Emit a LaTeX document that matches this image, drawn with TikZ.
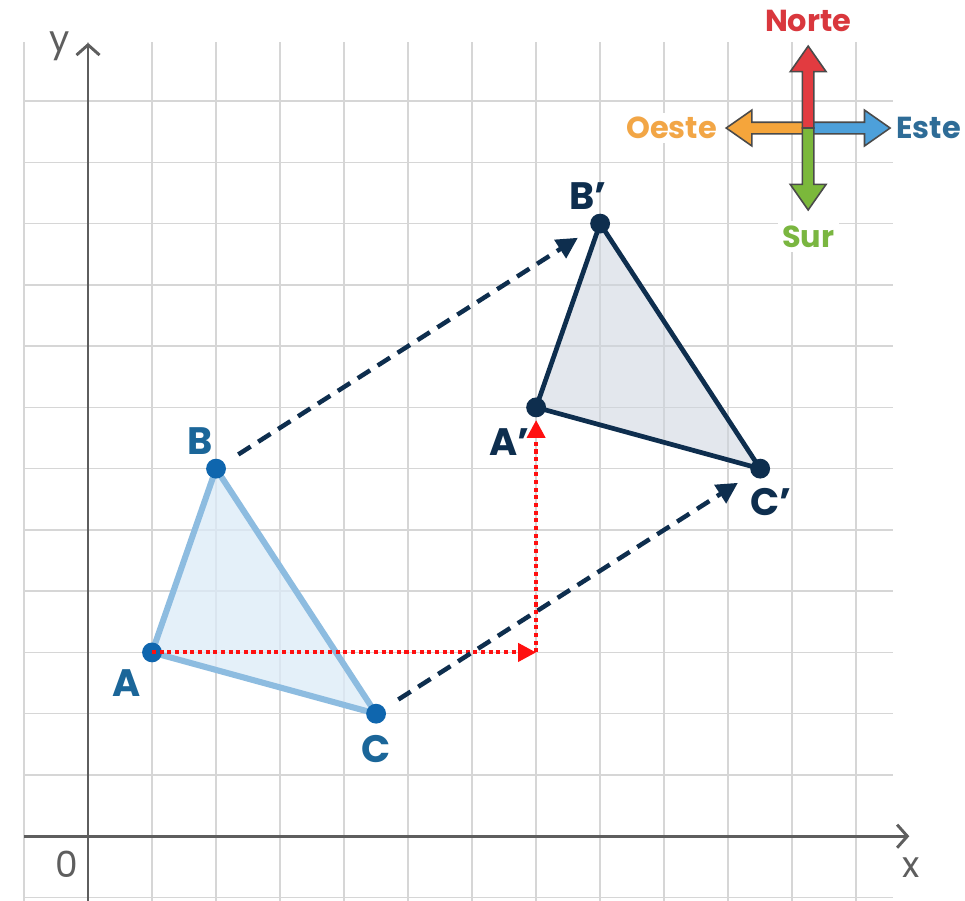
\documentclass[tikz,border=0pt]{standalone}
\usepackage{fontspec}
\setmainfont{Poppins}
\usetikzlibrary{arrows.meta, positioning, calc}

\definecolor{gridgray}{HTML}{D6D6D6}
\definecolor{axisgray}{HTML}{5E5E5E}
\definecolor{origline}{HTML}{8DBCE0}
\definecolor{origfill}{HTML}{DCEBF8}
\definecolor{origdot}{HTML}{0F66AE}
\definecolor{origtext}{HTML}{1B6699}
\definecolor{imgnavy}{HTML}{0E2E4E}
\definecolor{imgfill}{HTML}{CDD5DF}
\definecolor{transred}{HTML}{FF1010}
\definecolor{norte}{HTML}{E23B40}
\definecolor{oeste}{HTML}{F5A53B}
\definecolor{este}{HTML}{4DA0DA}
\definecolor{sur}{HTML}{7BB83B}
\definecolor{compassline}{HTML}{4A4A4A}
\definecolor{nortetext}{HTML}{D9373D}
\definecolor{oestetext}{HTML}{F2A646}
\definecolor{estetext}{HTML}{2E6C97}
\definecolor{surtext}{HTML}{7AB640}

\begin{document}
\begin{tikzpicture}[x=1cm, y=0.957cm, >=Stealth,
  vertex/.style={circle, inner sep=0pt, minimum size=0.31cm},
  origpt/.style={vertex, fill=origdot},
  imgpt/.style={vertex, fill=imgnavy},
  vlabel/.style={font=\fontsize{17}{20}\selectfont\bfseries, inner sep=1pt},
  origtri/.style={draw=origline, fill=origfill, fill opacity=0.75,
                  line width=2.7pt, line join=round},
  imgtri/.style={draw=imgnavy, fill=imgfill, fill opacity=0.55,
                 line width=2.1pt, line join=round},
  shiftarrow/.style={imgnavy, line width=2pt, dash pattern=on 6.5pt off 4pt,
                     -{Triangle[length=3.3mm, width=3.3mm]},
                     shorten <=0.25cm, shorten >=0.25cm},
  steparrow/.style={transred, line width=1.8pt, dash pattern=on 1.8pt off 1.6pt,
                    -{Triangle[length=2.8mm, width=2.8mm]}},
  axisline/.style={axisgray, line width=1.3pt,
                   -{Straight Barb[length=1.6mm, width=3.6mm]}},
  axislabel/.style={font=\fontsize{16}{18}\selectfont, text=axisgray, inner sep=0pt},
  compasslabel/.style={font=\fontsize{13.5}{16}\selectfont\bfseries,
                       fill=white, inner sep=2pt}]
  \useasboundingbox[fill=white] (-1.375,-1.045) rectangle (13.70,13.65);

  % Grid
  \foreach \i in {-1,...,12}
    \draw[gridgray, line width=0.7pt] (\i,-1.05) -- (\i,12.96);
  \foreach \j in {-1,...,12}
    \draw[gridgray, line width=0.7pt] (-1,\j) -- (12.58,\j);

  % Axes
  \draw[axisline] (-1,0) -- (12.83,0);
  \draw[axisline] (0,-1.05) -- (0,12.95);
  \node[axislabel] (xlab) at (12.86,-0.52) {x};
  \node[axislabel] (ylab) at (-0.45,12.9) {y};
  \node[axislabel] (orig) at (-0.33,-0.46) {0};

  % Vertices
  \coordinate (pA) at (1,3);
  \coordinate (pB) at (2,6);
  \coordinate (pC) at (4.5,2);
  \coordinate (pAp) at (7,7);
  \coordinate (pBp) at (8,10);
  \coordinate (pCp) at (10.5,6);

  % Triangles
  \filldraw[origtri] (pA) -- (pB) -- (pC) -- cycle;
  \filldraw[imgtri] (pAp) -- (pBp) -- (pCp) -- cycle;

  \node[origpt] (A) at (pA) {};
  \node[origpt] (B) at (pB) {};
  \node[origpt] (C) at (pC) {};
  \node[imgpt] (Ap) at (pAp) {};
  \node[imgpt] (Bp) at (pBp) {};
  \node[imgpt] (Cp) at (pCp) {};

  \node[vlabel, text=origtext, below=0.07cm of A, xshift=-0.39cm] (lA) {A};
  \node[vlabel, text=origtext, above=0.01cm of B, xshift=-0.25cm] (lB) {B};
  \node[vlabel, text=origtext, below=0.14cm of C] (lC) {C};
  \node[vlabel, text=imgnavy, below=0.13cm of Ap, xshift=-0.41cm] (lAp) {A’};
  \node[vlabel, text=imgnavy, above=0.02cm of Bp, xshift=-0.19cm] (lBp) {B’};
  \node[vlabel, text=imgnavy, below=0.11cm of Cp, xshift=0.17cm] (lCp) {C’};

  % Translation steps (6 right, 4 up)
  \coordinate (turn) at (7,3);
  \draw[steparrow] (A.center) -- (turn);
  \draw[steparrow, shorten >=1pt] (turn) -- (Ap);

  % Translation vectors
  \draw[shiftarrow] (B) -- (Bp);
  \draw[shiftarrow] (C) -- (Cp);

  % Compass
  \begin{scope}[shift={(11.25,11.56)}, x=1cm, y=1cm]
    \foreach \ang/\col in {180/oeste, 0/este, 90/norte, 270/sur}
      \filldraw[fill=\col, draw=compassline, line width=0.7pt, rotate=\ang]
        (0,-0.09) -- (0.88,-0.09) -- (0.88,-0.28) -- (1.28,0)
        -- (0.88,0.28) -- (0.88,0.09) -- (0,0.09) -- cycle;
    \coordinate (tipN) at (0,1.28);
    \coordinate (tipS) at (0,-1.28);
    \coordinate (tipW) at (-1.24,0);
    \coordinate (tipE) at (1.24,0);
  \end{scope}
  \node[compasslabel, text=nortetext, above=0.14cm of tipN] (norte) {Norte};
  \node[compasslabel, text=surtext, below=0.17cm of tipS] (sur) {Sur};
  \node[compasslabel, text=oestetext, left=0.11cm of tipW] (oeste) {Oeste};
  \node[compasslabel, text=estetext, right=0.06cm of tipE] (este) {Este};
\end{tikzpicture}
\end{document}
